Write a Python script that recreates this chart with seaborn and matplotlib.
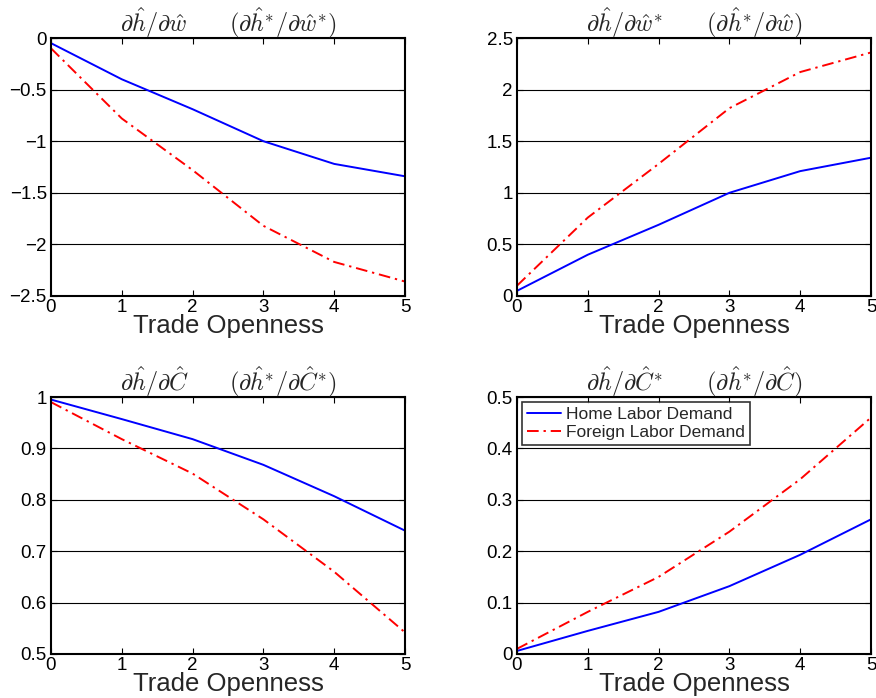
import numpy as np
import pandas as pd
import matplotlib
matplotlib.use("Agg")
import matplotlib.pyplot as plt
import seaborn as sns

openness = [0, 1, 2, 3, 4, 5]

home_w = [-0.05, -0.40, -0.69, -1.00, -1.22, -1.34]
foreign_w = [-0.10, -0.78, -1.28, -1.82, -2.17, -2.36]

home_wstar = [0.05, 0.40, 0.69, 1.00, 1.21, 1.34]
foreign_wstar = [0.10, 0.76, 1.28, 1.82, 2.17, 2.36]

home_c = [0.995, 0.957, 0.918, 0.868, 0.807, 0.740]
foreign_c = [0.990, 0.918, 0.851, 0.762, 0.660, 0.542]

home_cstar = [0.006, 0.045, 0.082, 0.132, 0.193, 0.262]
foreign_cstar = [0.010, 0.082, 0.150, 0.238, 0.340, 0.460]

titles = [
    r'$\partial\hat{h}/\partial\hat{w}\qquad(\partial\hat{h}^{*}/\partial\hat{w}^{*})$',
    r'$\partial\hat{h}/\partial\hat{w}^{*}\qquad(\partial\hat{h}^{*}/\partial\hat{w})$',
    r'$\partial\hat{h}/\partial\hat{C}\qquad(\partial\hat{h}^{*}/\partial\hat{C}^{*})$',
    r'$\partial\hat{h}/\partial\hat{C}^{*}\qquad(\partial\hat{h}^{*}/\partial\hat{C})$',
]
yticks = [
    [-2.5, -2, -1.5, -1, -0.5, 0],
    [0, 0.5, 1, 1.5, 2, 2.5],
    [0.5, 0.6, 0.7, 0.8, 0.9, 1],
    [0, 0.1, 0.2, 0.3, 0.4, 0.5],
]
yticklabels = [
    ["\u22122.5", "\u22122", "\u22121.5", "\u22121", "\u22120.5", "0"],
    ["0", "0.5", "1", "1.5", "2", "2.5"],
    ["0.5", "0.6", "0.7", "0.8", "0.9", "1"],
    ["0", "0.1", "0.2", "0.3", "0.4", "0.5"],
]
series = [
    (home_w, foreign_w),
    (home_wstar, foreign_wstar),
    (home_c, foreign_c),
    (home_cstar, foreign_cstar),
]

sns.set_theme(style="white")
plt.rcParams['font.family'] = ['Liberation Sans', 'DejaVu Sans']
plt.rcParams['mathtext.fontset'] = 'cm'

fig = plt.figure(figsize=(8.76, 6.98), dpi=100)
W, H = 876, 698
boxes = [
    (51, 38, 405, 296),
    (517, 38, 871, 296),
    (51, 397, 405, 654),
    (517, 397, 871, 654),
]

for i, (x0, y0, x1, y1) in enumerate(boxes):
    ax = fig.add_axes([x0 / W, 1 - y1 / H, (x1 - x0) / W, (y1 - y0) / H])
    home, foreign = series[i]
    df = pd.DataFrame({"x": openness, "home": home, "foreign": foreign})
    sns.lineplot(data=df, x="x", y="home", ax=ax, color="#0000ff", lw=1.4,
                 label="Home Labor Demand", legend=False)
    sns.lineplot(data=df, x="x", y="foreign", ax=ax, color="#ff0000", lw=1.4,
                 linestyle=(0, (6, 2.5, 1.2, 2.5)), label="Foreign Labor Demand", legend=False)
    ax.set_xlim(0, 5)
    ax.set_ylim(yticks[i][0], yticks[i][-1])
    ax.set_xticks(openness)
    ax.set_xticklabels([str(v) for v in openness])
    ax.set_yticks(yticks[i])
    ax.set_yticklabels(yticklabels[i])
    ax.yaxis.grid(True, color="black", lw=0.8, ls="-")
    ax.xaxis.grid(False)
    ax.set_axisbelow(True)
    for s in ax.spines.values():
        s.set_color("black")
        s.set_linewidth(1.5)
    ax.tick_params(axis="both", direction="in", length=4, width=0.8, colors="black",
                   labelsize=13.5, top=True, right=True, pad=3, bottom=True, left=True)
    ax.tick_params(axis="x", pad=2)
    ax.set_xlabel("Trade Openness", fontsize=18.5, labelpad=-1)
    ax.set_ylabel("")
    ax.set_title(titles[i], fontsize=17.5, pad=5)
    if i == 3:
        leg = ax.legend(loc="upper left", fontsize=12.5, frameon=True, fancybox=False,
                        edgecolor="black", borderpad=0.25, handlelength=2.0,
                        handletextpad=0.3, labelspacing=0.2, borderaxespad=0.3)
        leg.get_frame().set_linewidth(1.2)

fig.savefig("out.png", dpi=100)
